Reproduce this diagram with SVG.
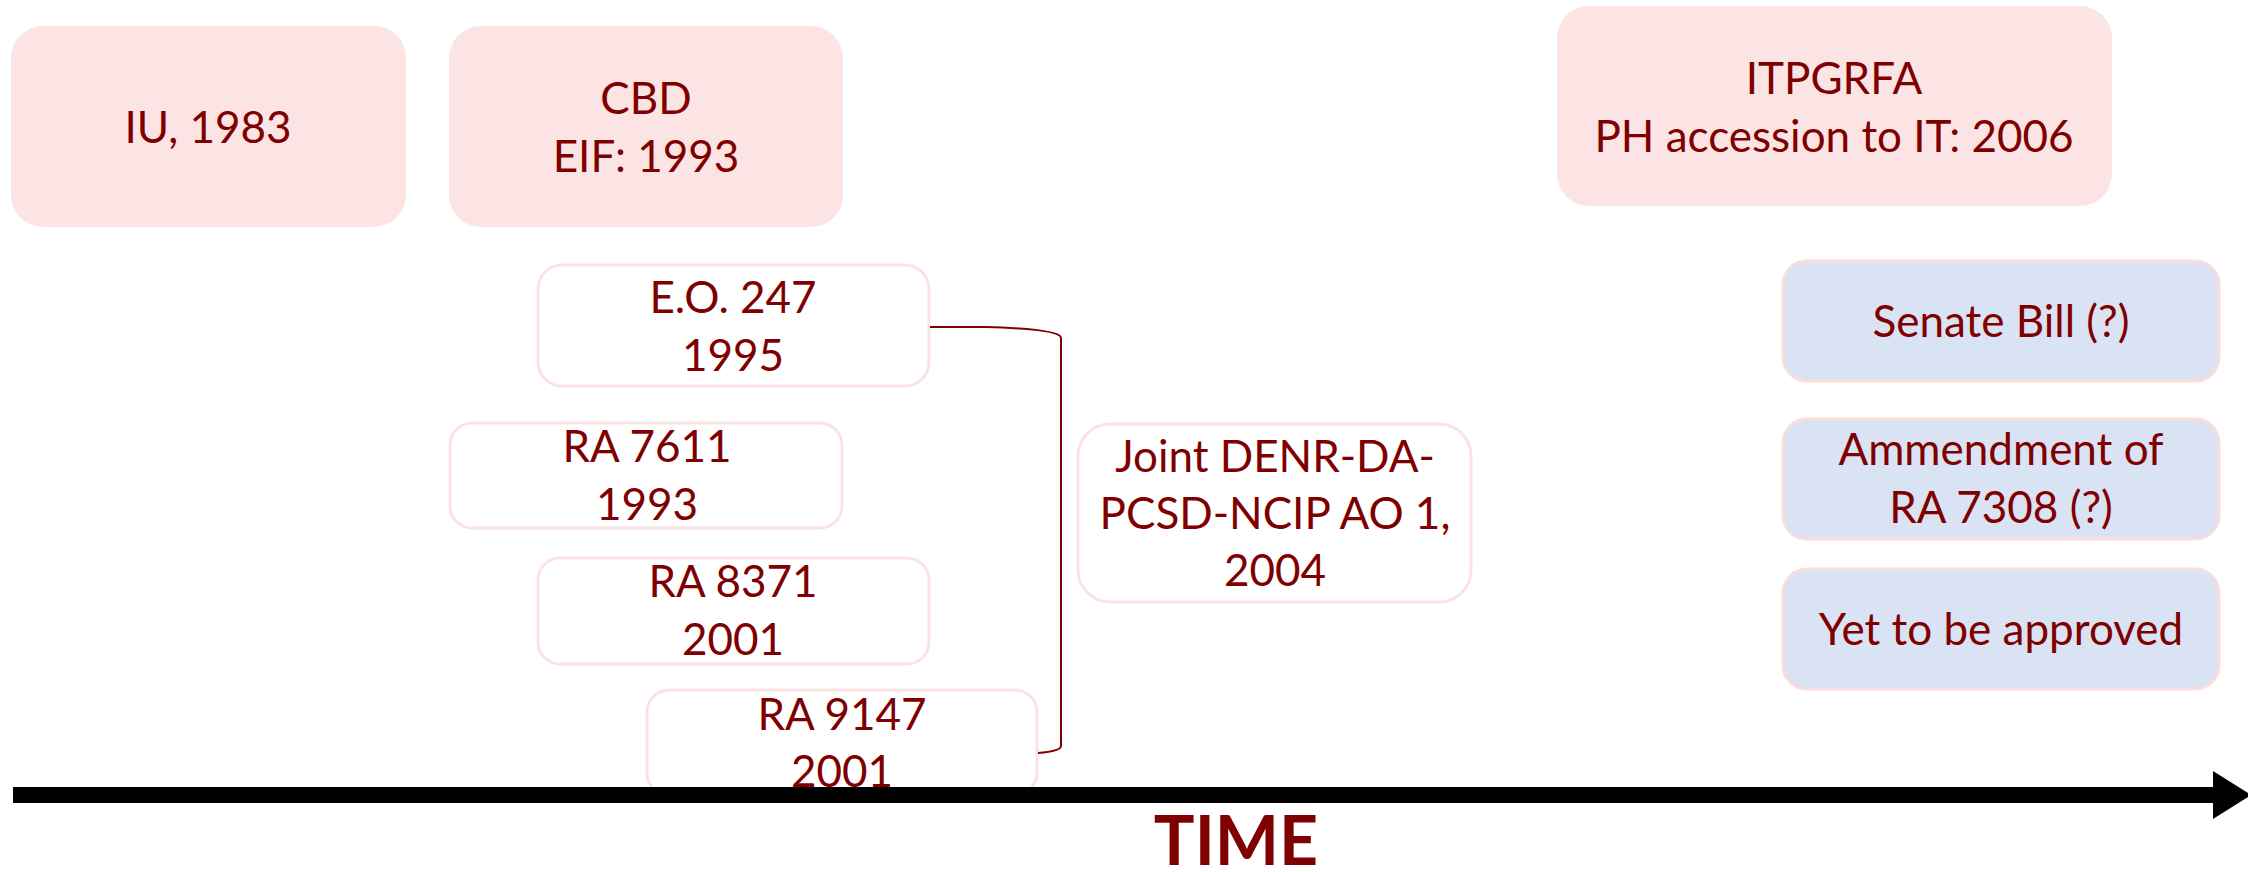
<svg xmlns="http://www.w3.org/2000/svg" width="2248" height="872" viewBox="0 0 2248 872">
<style>
.t{font-family:Lato,"Open Sans","Liberation Sans",sans-serif;font-size:44px;fill:#7F0000;text-anchor:middle}
.pk{fill:#FCE4E4}
.wh{fill:#FFFFFF;stroke:#FBE3E3;stroke-width:3}
.bl{fill:#DAE3F3;stroke:#F9DCDC;stroke-width:3}
.conn{fill:none;stroke:#7F0000;stroke-width:2}
</style>
<defs>
<marker id="ah" markerUnits="userSpaceOnUse" markerWidth="40" markerHeight="50" refX="0" refY="24" orient="auto">
<polygon points="0,0 38,24 0,48" fill="#000"/>
</marker>
</defs>
<rect width="2248" height="872" fill="#fff"/>
<g id="iu"><rect class="pk" x="11" y="26" width="395" height="201" rx="32"/><text class="t" x="208" y="143">IU, 1983</text></g>
<g id="cbd"><rect class="pk" x="449" y="26" width="394" height="201" rx="32"/><text class="t" x="646" y="114">CBD</text><text class="t" x="646" y="172">EIF: 1993</text></g>
<g id="itpgrfa"><rect class="pk" x="1557" y="6" width="555" height="200" rx="32"/><text class="t" x="1834" y="94">ITPGRFA</text><text class="t" x="1834" y="152">PH accession to IT: 2006</text></g>
<g id="eo247"><rect class="wh" x="538" y="265" width="391" height="121" rx="24"/><text class="t" x="733" y="313">E.O. 247</text><text class="t" x="733" y="371">1995</text></g>
<g id="ra7611"><rect class="wh" x="450" y="423" width="392" height="105" rx="22"/><text class="t" x="647" y="462">RA 7611</text><text class="t" x="647" y="520">1993</text></g>
<g id="ra8371"><rect class="wh" x="538" y="558" width="391" height="106" rx="22"/><text class="t" x="733" y="597">RA 8371</text><text class="t" x="733" y="655">2001</text></g>
<g id="ra9147"><rect class="wh" x="647" y="690" width="390" height="105" rx="22"/><text class="t" x="842" y="730">RA 9147</text><text class="t" x="842" y="787">2001</text></g>
<g id="joint"><rect class="wh" x="1078" y="424" width="393" height="178" rx="32"/><text class="t" x="1275" y="472">Joint DENR-DA-</text><text class="t" x="1275" y="529">PCSD-NCIP AO 1,</text><text class="t" x="1275" y="586">2004</text></g>
<g id="senate"><rect class="bl" x="1783" y="261" width="436" height="120" rx="24"/><text class="t" x="2001" y="337">Senate Bill (?)</text></g>
<g id="ammend"><rect class="bl" x="1783" y="419" width="436" height="120" rx="24"/><text class="t" x="2001" y="465">Ammendment of</text><text class="t" x="2001" y="523">RA 7308 (?)</text></g>
<g id="yet"><rect class="bl" x="1783" y="569" width="436" height="120" rx="24"/><text class="t" x="2001" y="645">Yet to be approved</text></g>
<g id="connectors">
<path class="conn" d="M930 327 L985 327 Q1061 329 1061 338 L1061 746 Q1061 751 1038 753"/>
<line x1="13" y1="795" x2="2213" y2="795" stroke="#000" stroke-width="16" marker-end="url(#ah)"/>
</g>
<text x="1236" y="865" style="font-family:Lato,'Liberation Sans',sans-serif;font-size:68px;font-weight:bold;fill:#7F0000;text-anchor:middle">TIME</text>
</svg>
